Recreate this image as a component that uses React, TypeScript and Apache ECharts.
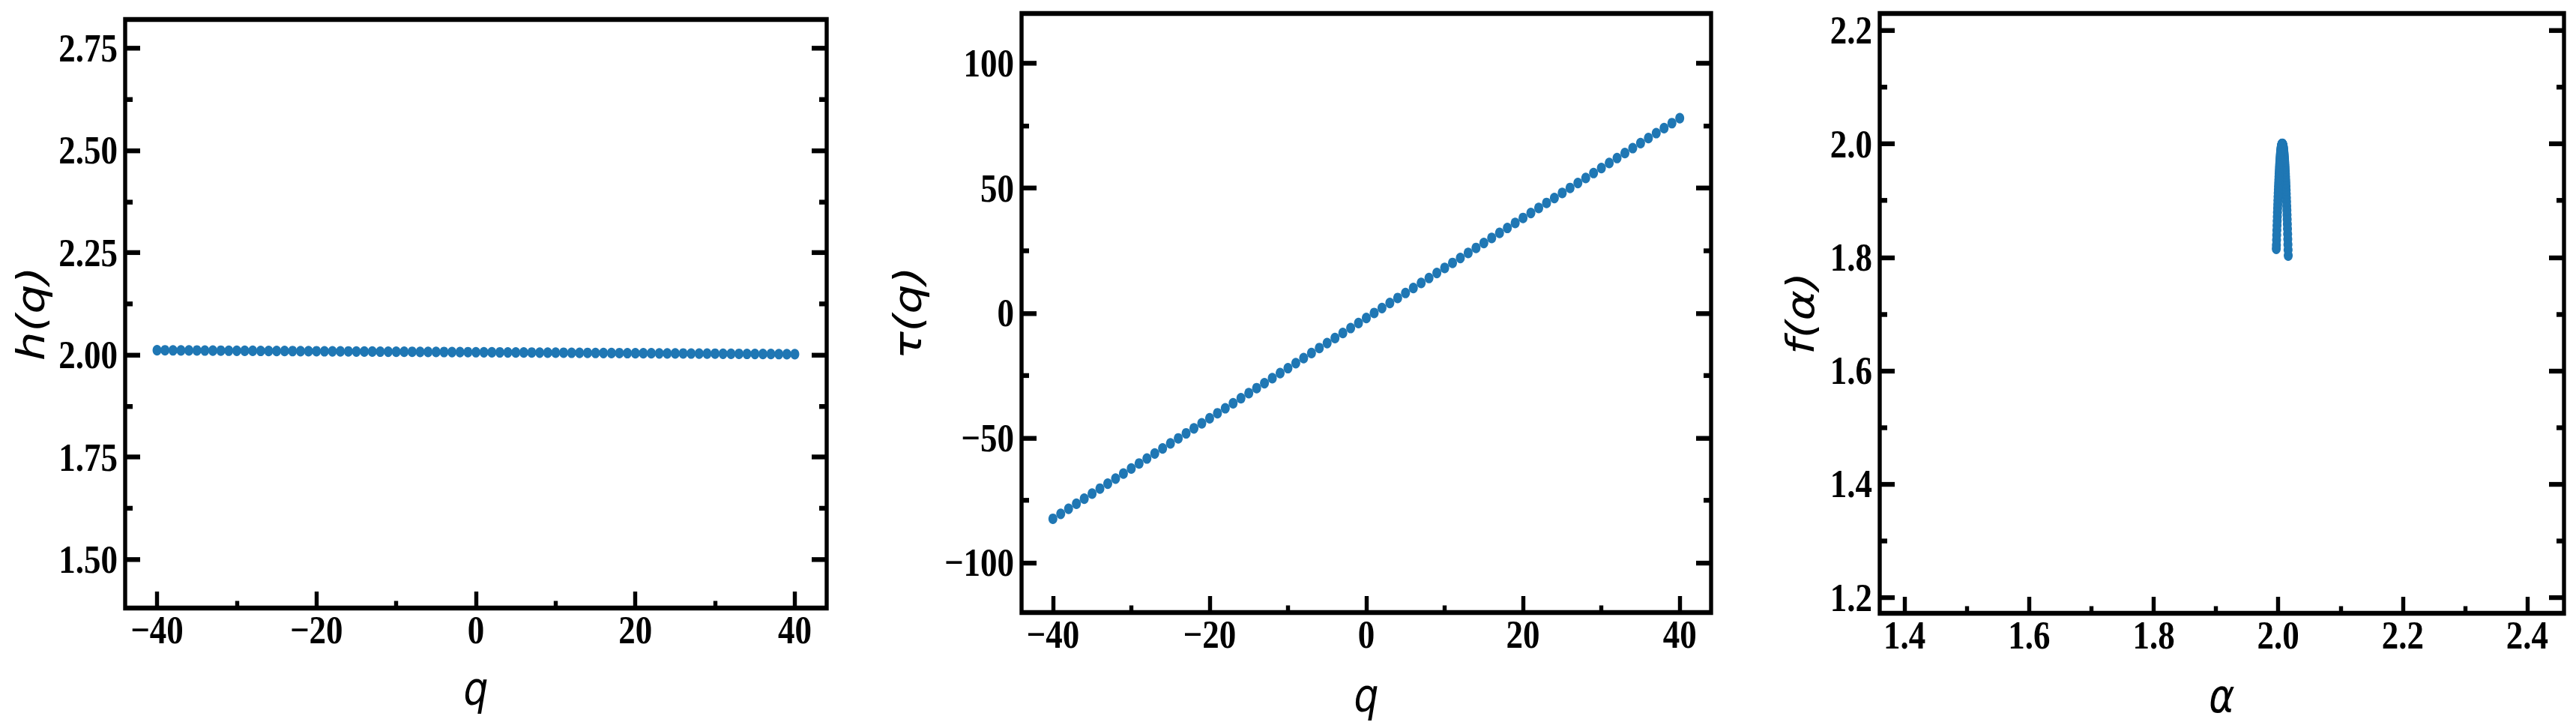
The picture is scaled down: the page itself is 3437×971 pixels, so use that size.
import React, { useEffect, useRef } from "react";
import * as echarts from "echarts";

// ---------------- data ----------------
const Q = [
  -40, -39, -38, -37, -36, -35, -34, -33, -32, -31,
  -30, -29, -28, -27, -26, -25, -24, -23, -22, -21,
  -20, -19, -18, -17, -16, -15, -14, -13, -12, -11,
  -10, -9, -8, -7, -6, -5, -4, -3, -2, -1,
  0,
  1, 2, 3, 4, 5, 6, 7, 8, 9, 10,
  11, 12, 13, 14, 15, 16, 17, 18, 19, 20,
  21, 22, 23, 24, 25, 26, 27, 28, 29, 30,
  31, 32, 33, 34, 35, 36, 37, 38, 39, 40,
];

const H_Q = [
  2.0113, 2.0112, 2.0111, 2.0109, 2.0108, 2.0107, 2.0106, 2.0105, 2.0103, 2.0102,
  2.0101, 2.01, 2.0099, 2.0097, 2.0096, 2.0095, 2.0094, 2.0093, 2.0091, 2.009,
  2.0089, 2.0088, 2.0087, 2.0085, 2.0084, 2.0083, 2.0082, 2.0081, 2.0079, 2.0078,
  2.0077, 2.0076, 2.0075, 2.0073, 2.0072, 2.0071, 2.007, 2.0069, 2.0067, 2.0066,
  2.0065,
  2.0064, 2.0063, 2.0061, 2.006, 2.0059, 2.0058, 2.0057, 2.0055, 2.0054, 2.0053,
  2.0052, 2.0051, 2.0049, 2.0048, 2.0047, 2.0046, 2.0045, 2.0043, 2.0042, 2.0041,
  2.004, 2.0039, 2.0037, 2.0036, 2.0035, 2.0034, 2.0033, 2.0031, 2.003, 2.0029,
  2.0028, 2.0027, 2.0025, 2.0024, 2.0023, 2.0022, 2.0021, 2.0019, 2.0018, 2.0017,
];

const TAU_Q = [
  -82.45, -80.44, -78.42, -76.4, -74.39, -72.37, -70.36, -68.35, -66.33, -64.32,
  -62.3, -60.29, -58.28, -56.26, -54.25, -52.24, -50.23, -48.21, -46.2, -44.19,
  -42.18, -40.17, -38.16, -36.15, -34.13, -32.12, -30.11, -28.1, -26.1, -24.09,
  -22.08, -20.07, -18.06, -16.05, -14.04, -12.04, -10.03, -8.02, -6.01, -4.01,
  -2.0,
  0.01, 2.01, 4.02, 6.02, 8.03, 10.03, 12.04, 14.04, 16.05, 18.05,
  20.06, 22.06, 24.06, 26.07, 28.07, 30.07, 32.08, 34.08, 36.08, 38.08,
  40.08, 42.08, 44.09, 46.09, 48.09, 50.09, 52.09, 54.09, 56.09, 58.09,
  60.09, 62.09, 64.08, 66.08, 68.08, 70.08, 72.08, 74.07, 76.07, 78.07,
];

const ALPHA = [
  2.0161, 2.01586, 2.01562, 2.01538, 2.01514, 2.0149, 2.01466, 2.01442, 2.01418, 2.01394,
  2.0137, 2.01346, 2.01322, 2.01298, 2.01274, 2.0125, 2.01226, 2.01202, 2.01178, 2.01154,
  2.0113, 2.01106, 2.01082, 2.01058, 2.01034, 2.0101, 2.00986, 2.00962, 2.00938, 2.00914,
  2.0089, 2.00866, 2.00842, 2.00818, 2.00794, 2.0077, 2.00746, 2.00722, 2.00698, 2.00674,
  2.0065,
  2.00626, 2.00602, 2.00578, 2.00554, 2.0053, 2.00506, 2.00482, 2.00458, 2.00434, 2.0041,
  2.00386, 2.00362, 2.00338, 2.00314, 2.0029, 2.00266, 2.00242, 2.00218, 2.00194, 2.0017,
  2.00146, 2.00122, 2.00098, 2.00074, 2.0005, 2.00026, 2.00002, 1.99978, 1.99954, 1.9993,
  1.99906, 1.99882, 1.99858, 1.99834, 1.9981, 1.99786, 1.99762, 1.99738, 1.99714, 1.9969,
];

const F_ALPHA = [
  1.803, 1.813, 1.8225, 1.832, 1.841, 1.85, 1.8585, 1.867, 1.875, 1.883,
  1.8905, 1.898, 1.905, 1.912, 1.9185, 1.925, 1.931, 1.9365, 1.942, 1.9471,
  1.952, 1.9567, 1.9611, 1.9653, 1.9693, 1.973, 1.9765, 1.9797, 1.9827, 1.9855,
  1.988, 1.9903, 1.9923, 1.9941, 1.9957, 1.997, 1.9981, 1.9989, 1.9995, 1.9999,
  2.0,
  1.9999, 1.9995, 1.9989, 1.9981, 1.997, 1.9957, 1.9941, 1.9923, 1.9903, 1.988,
  1.9855, 1.9827, 1.9797, 1.9765, 1.973, 1.9693, 1.9653, 1.9611, 1.9567, 1.952,
  1.9471, 1.942, 1.9367, 1.9312, 1.9255, 1.9195, 1.9133, 1.9069, 1.9003, 1.8935,
  1.8865, 1.8792, 1.8717, 1.864, 1.856, 1.8478, 1.8393, 1.8306, 1.8217, 1.815,
];

// tick values
const Q_MAJOR = [-40, -20, 0, 20, 40];
const Q_MINOR = [-30, -10, 10, 30];
const H_MAJOR = [1.5, 1.75, 2.0, 2.25, 2.5, 2.75];
const H_MINOR = [1.625, 1.875, 2.125, 2.375, 2.625];
const TAU_MAJOR = [-100, -50, 0, 50, 100];
const TAU_MINOR = [-75, -25, 25, 75];
const A_MAJOR = [1.4, 1.6, 1.8, 2.0, 2.2, 2.4];
const A_MINOR = [1.5, 1.7, 1.9, 2.1, 2.3];
const F_MAJOR = [1.2, 1.4, 1.6, 1.8, 2.0, 2.2];
const F_MINOR = [1.3, 1.5, 1.7, 1.9, 2.1];

// ---------------- styling ----------------
// The reference figure is slightly stretched vertically; the chart is
// rendered at a reduced height and scaled back up with CSS.
const SY = 1.18;
const FULL_W = 3437;
const FULL_H = 971;
const CH = FULL_H / SY;

const BLUE = "#1f77b4";
const LABEL_FONT = {
  fontFamily: "'Liberation Serif', 'Times New Roman', serif",
  fontWeight: "bold" as const,
  fontSize: 45,
  color: "#000",
};
const NAME_FONT = {
  fontFamily: "'DejaVu Sans', sans-serif",
  fontStyle: "italic" as const,
  fontSize: 52,
  color: "#000",
};
const LW = 5.4;
const X_MAJOR_LEN = 22 / SY;
const X_MINOR_LEN = 9.5 / SY;
const Y_MAJOR_LEN = 20;
const Y_MINOR_LEN = 10;

const minus = (s: string) => s.replace("-", "\u2212");

type Panel = {
  rect: { left: number; top: number; width: number; height: number };
  xRange: [number, number];
  yRange: [number, number];
  xMajor: number[];
  xMinor: number[];
  yMajor: number[];
  yMinor: number[];
  xFmt: (v: number) => string;
  yFmt: (v: number) => string;
  xName: string;
  yName: string;
  xNameGap: number;
  yNameGap: number;
  data: number[][];
};

const panels: Panel[] = [
  {
    rect: { left: 167, top: 26, width: 936, height: 785 },
    xRange: [-44, 44],
    yRange: [1.381, 2.82],
    xMajor: Q_MAJOR,
    xMinor: Q_MINOR,
    yMajor: H_MAJOR,
    yMinor: H_MINOR,
    xFmt: (v) => minus(String(Math.round(v))),
    yFmt: (v) => v.toFixed(2),
    xName: "q",
    yName: "h(q)",
    xNameGap: 64,
    yNameGap: 100,
    data: Q.map((q, i) => [q, H_Q[i]]),
  },
  {
    rect: { left: 1363, top: 18, width: 920, height: 799 },
    xRange: [-44, 44],
    yRange: [-120, 120],
    xMajor: Q_MAJOR,
    xMinor: Q_MINOR,
    yMajor: TAU_MAJOR,
    yMinor: TAU_MINOR,
    xFmt: (v) => minus(String(Math.round(v))),
    yFmt: (v) => minus(String(Math.round(v))),
    xName: "q",
    yName: "\u03c4(q)",
    xNameGap: 67,
    yNameGap: 126,
    data: Q.map((q, i) => [q, TAU_Q[i]]),
  },
  {
    rect: { left: 2508, top: 18, width: 913, height: 800 },
    xRange: [1.36, 2.459],
    yRange: [1.172, 2.23],
    xMajor: A_MAJOR,
    xMinor: A_MINOR,
    yMajor: F_MAJOR,
    yMinor: F_MINOR,
    xFmt: (v) => v.toFixed(1),
    yFmt: (v) => v.toFixed(1),
    xName: "\u03b1",
    yName: "f(\u03b1)",
    xNameGap: 68,
    yNameGap: 80,
    data: ALPHA.map((a, i) => [a, F_ALPHA[i]]),
  },
];

function buildOption() {
  const grid: any[] = [];
  const xAxis: any[] = [];
  const yAxis: any[] = [];
  const series: any[] = [];

  panels.forEach((p, g) => {
    grid.push({
      left: p.rect.left,
      width: p.rect.width,
      top: p.rect.top / SY,
      height: p.rect.height / SY,
      show: true,
      borderColor: "#000",
      borderWidth: LW,
      backgroundColor: "transparent",
      containLabel: false,
      outerBoundsMode: "none",
    });

    const tickStyle = { color: "#000", width: LW };
    const common = (min: number, max: number) => ({
      gridIndex: g,
      type: "value",
      min,
      max,
      axisLine: { show: false, onZero: false },
      splitLine: { show: false },
      minorTick: { show: false },
      minorSplitLine: { show: false },
    });

    // x major (labels + name)
    xAxis.push({
      ...common(p.xRange[0], p.xRange[1]),
      position: "bottom",
      axisTick: {
        show: true,
        inside: true,
        length: X_MAJOR_LEN,
        lineStyle: tickStyle,
        customValues: p.xMajor,
      },
      axisLabel: {
        show: true,
        margin: 2,
        customValues: p.xMajor,
        formatter: (v: number) => p.xFmt(v),
        ...LABEL_FONT,
      },
      name: p.xName,
      nameLocation: "middle",
      nameGap: p.xNameGap,
      nameTextStyle: NAME_FONT,
    });
    // x minor
    xAxis.push({
      ...common(p.xRange[0], p.xRange[1]),
      position: "bottom",
      axisTick: {
        show: true,
        inside: true,
        length: X_MINOR_LEN,
        lineStyle: tickStyle,
        customValues: p.xMinor,
      },
      axisLabel: { show: false },
    });

    // y left major (labels + name)
    yAxis.push({
      ...common(p.yRange[0], p.yRange[1]),
      position: "left",
      axisTick: {
        show: true,
        inside: true,
        length: Y_MAJOR_LEN,
        lineStyle: tickStyle,
        customValues: p.yMajor,
      },
      axisLabel: {
        show: true,
        margin: 10,
        customValues: p.yMajor,
        formatter: (v: number) => p.yFmt(v),
        ...LABEL_FONT,
      },
      name: p.yName,
      nameLocation: "middle",
      nameGap: p.yNameGap,
      nameRotate: 90,
      nameTextStyle: NAME_FONT,
    });
    // y left minor
    yAxis.push({
      ...common(p.yRange[0], p.yRange[1]),
      position: "left",
      axisTick: {
        show: true,
        inside: true,
        length: Y_MINOR_LEN,
        lineStyle: tickStyle,
        customValues: p.yMinor,
      },
      axisLabel: { show: false },
    });
    // y right major
    yAxis.push({
      ...common(p.yRange[0], p.yRange[1]),
      position: "right",
      axisTick: {
        show: true,
        inside: true,
        length: Y_MAJOR_LEN,
        lineStyle: tickStyle,
        customValues: p.yMajor,
      },
      axisLabel: { show: false },
    });
    // y right minor
    yAxis.push({
      ...common(p.yRange[0], p.yRange[1]),
      position: "right",
      axisTick: {
        show: true,
        inside: true,
        length: Y_MINOR_LEN,
        lineStyle: tickStyle,
        customValues: p.yMinor,
      },
      axisLabel: { show: false },
    });

    series.push({
      type: "scatter",
      xAxisIndex: 2 * g,
      yAxisIndex: 4 * g,
      data: p.data,
      symbol: "circle",
      symbolSize: 12,
      itemStyle: { color: BLUE, opacity: 1 },
      silent: true,
      clip: true,
    });
  });

  return {
    animation: false,
    backgroundColor: "#ffffff",
    grid,
    xAxis,
    yAxis,
    series,
  };
}

export default function App() {
  const ref = useRef<HTMLDivElement>(null);
  useEffect(() => {
    if (!ref.current) return;
    const chart = echarts.init(ref.current, null, {
      renderer: "svg",
      width: FULL_W,
      height: CH,
    });
    chart.setOption(buildOption() as any);
    return () => {
      chart.dispose();
    };
  }, []);
  return (
    <div
      ref={ref}
      style={{
        position: "fixed",
        left: 0,
        top: 0,
        width: FULL_W,
        height: CH,
        background: "#fff",
        transform: `scaleY(${SY})`,
        transformOrigin: "0 0",
      }}
    />
  );
}
